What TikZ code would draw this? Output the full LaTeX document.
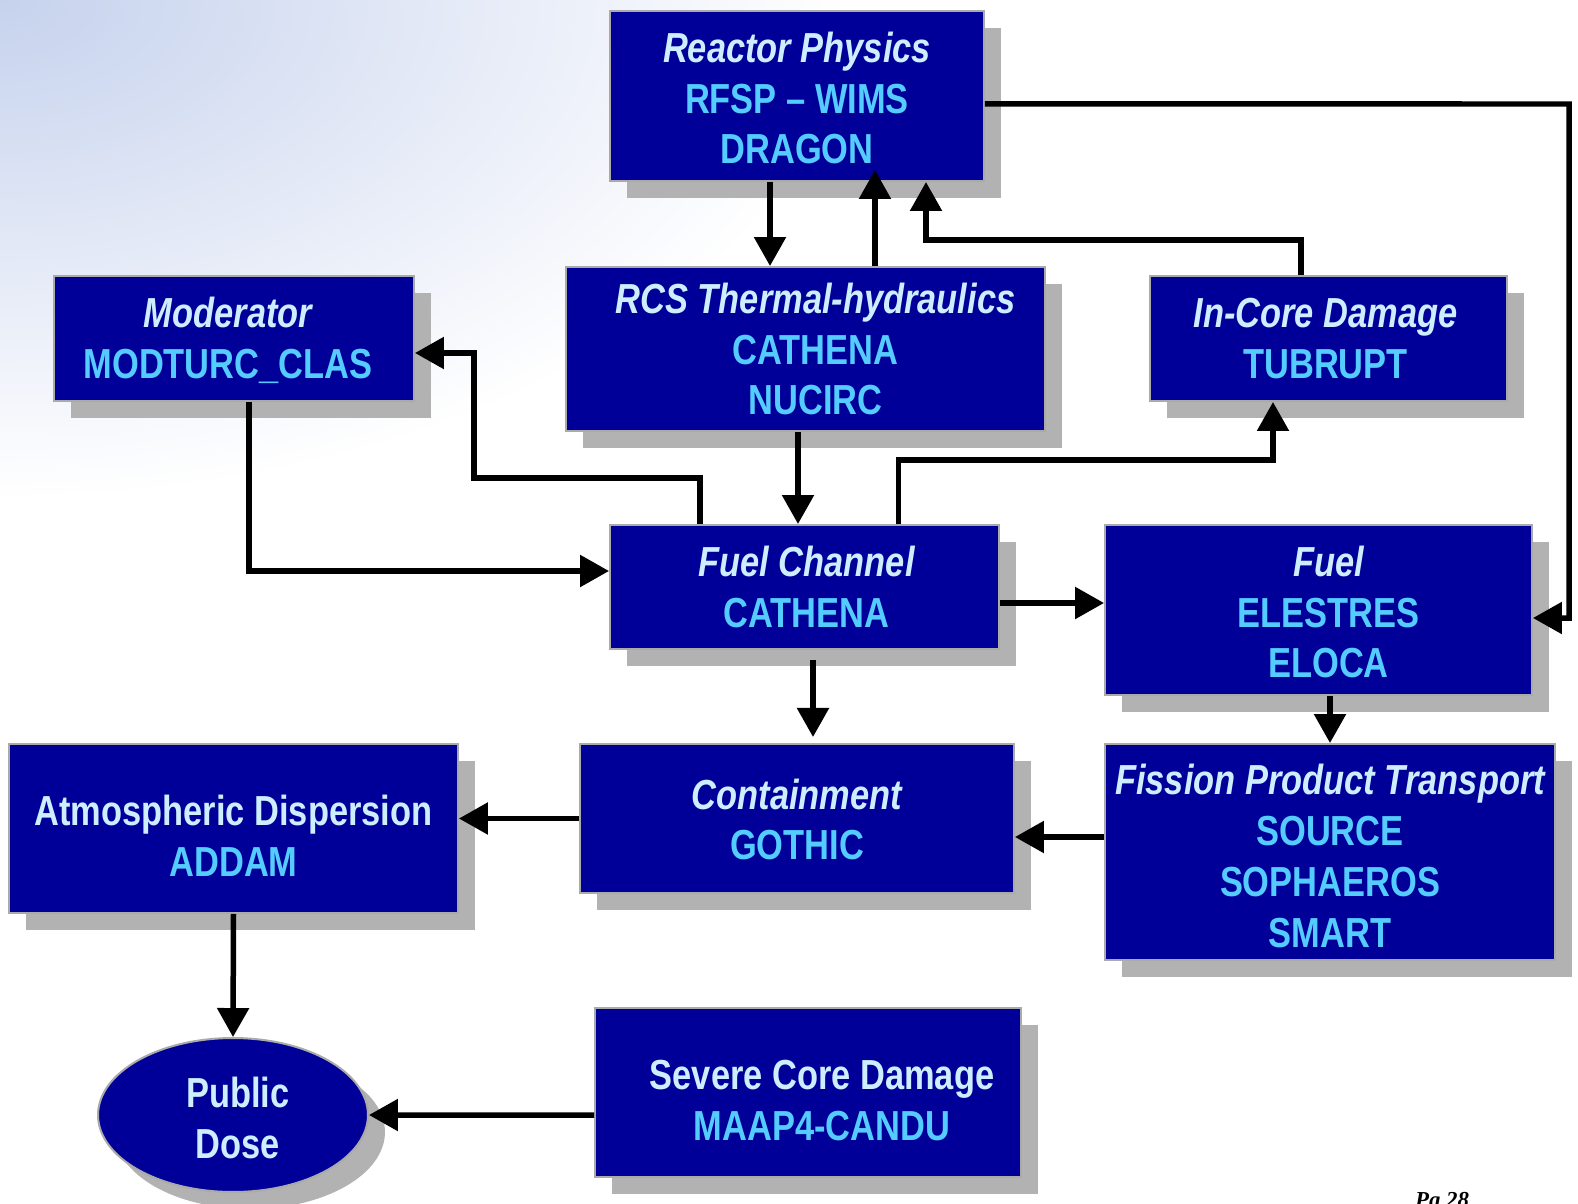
\documentclass[tikz,border=0pt]{standalone}
\usepackage{fontspec}
\setmainfont{Liberation Sans}[FakeStretch=0.82]
\newfontfamily\pagenofont{Liberation Serif}
\usepackage{xcolor}
\usetikzlibrary{positioning, arrows.meta, shapes.geometric, shadows}

\definecolor{boxblue}{RGB}{0,0,153}
\definecolor{titletext}{RGB}{204,238,255}
\definecolor{codetext}{RGB}{85,204,255}
\definecolor{shadowgray}{RGB}{178,178,178}
\definecolor{bordergray}{RGB}{170,170,170}
\definecolor{bgblue}{RGB}{198,210,237}

\newcommand{\ttl}[1]{{\color{titletext}\itshape #1}}
\newcommand{\ttlup}[1]{{\color{titletext}#1}}
\newcommand{\code}[1]{{\color{codetext}#1}}

\tikzset{
	box/.style={rectangle, draw=bordergray, line width=0.04cm, fill=boxblue, inner sep=0pt,
		drop shadow={shadow xshift=0.34cm, shadow yshift=-0.34cm, fill=shadowgray, opacity=1}},
	txt/.style={align=center, inner sep=0pt, font={\fontsize{23.9}{29}\selectfont\bfseries}},
	wire/.style={line width=0.11cm, -{Triangle[length=0.58cm, width=0.62cm]}},
}

\begin{document}
\begin{tikzpicture}[x=0.02cm, y=-0.02cm]
		\useasboundingbox (0,0) rectangle (1578,1203);
		\begin{scope}
			\clip (0,0) rectangle (1578,1203);
			\shade[inner color=bgblue, outer color=white] (0,0) ellipse [x radius=17cm, y radius=10cm];
		\end{scope}
		
		\node[box, minimum width=7.48cm, minimum height=3.4cm] (reactor) at (797,96) {};
		\node[txt] (reactor-txt) at ([yshift=-0.04cm]reactor) {\ttl{Reactor Physics}\\\code{RFSP -- WIMS}\\\code{DRAGON}};
		
		\node[box, minimum width=7.2cm, minimum height=2.5cm] (moder) at (234,338.5) {};
		\node[txt] (moder-txt) at ([xshift=-0.12cm, yshift=-0.04cm]moder) {\ttl{Moderator}\\\code{MODTURC\_CLAS}};
		
		\node[box, minimum width=9.58cm, minimum height=3.28cm] (rcs) at (805.5,349) {};
		\node[txt] (rcs-txt) at ([xshift=0.2cm]rcs) {\ttl{RCS Thermal-hydraulics}\\\code{CATHENA}\\\code{NUCIRC}};
		
		\node[box, minimum width=7.14cm, minimum height=2.5cm] (incore) at (1328.5,338.5) {};
		\node[txt] (incore-txt) at ([xshift=-0.06cm]incore) {\ttl{In-Core Damage}\\\code{TUBRUPT}};
		
		\node[box, minimum width=7.78cm, minimum height=2.48cm] (fuelch) at (804.5,587) {};
		\node[txt] (fuelch-txt) at ([xshift=0.04cm]fuelch) {\ttl{Fuel Channel}\\\code{CATHENA}};
		
		\node[box, minimum width=8.54cm, minimum height=3.4cm] (fuel) at (1318.5,610) {};
		\node[txt] (fuel-txt) at ([xshift=0.2cm, yshift=-0.04cm]fuel) {\ttl{Fuel}\\\code{ELESTRES}\\\code{ELOCA}};
		
		\node[box, minimum width=8.98cm, minimum height=3.38cm] (atmos) at (233.5,828.5) {};
		\node[txt] (atmos-txt) at ([yshift=-0.14cm]atmos) {\ttlup{Atmospheric Dispersion}\\\code{ADDAM}};
		
		\node[box, minimum width=8.68cm, minimum height=2.98cm] (contain) at (797,818.5) {};
		\node[txt] (contain-txt) at ([yshift=-0.02cm]contain) {\ttl{Containment}\\\code{GOTHIC}};
		
		\node[box, minimum width=9cm, minimum height=4.32cm] (fpt) at (1330,852) {};
		\node[txt] (fpt-txt) at ([yshift=-0.08cm]fpt) {\ttl{Fission Product Transport}\\\code{SOURCE}\\\code{SOPHAEROS}\\\code{SMART}};
		
		\node[box, ellipse, minimum width=5.4cm, minimum height=3.08cm] (public) at (233,1115) {};
		\node[txt] (public-txt) at ([xshift=0.1cm, yshift=-0.06cm]public) {\ttlup{Public}\\\ttlup{Dose}};
		
		\node[box, minimum width=8.52cm, minimum height=3.38cm] (severe) at (808,1092.5) {};
		\node[txt] (severe-txt) at ([xshift=0.28cm, yshift=-0.16cm]severe) {\ttlup{Severe Core Damage}\\\code{MAAP4-CANDU}};
		
		\node[anchor=base, font={\pagenofont\fontsize{13}{15}\selectfont\bfseries\itshape}] (pageno) at (1442,1207) {Pg 28};
		
		%bends of the long wires
		\coordinate (i1) at (474,478);
		\coordinate (i2) at (1273,460);
		\coordinate (i3) at (926,240);
		\coordinate (i4) at (1569,104);
		
		\draw[wire] ([xshift=-0.54cm]reactor.south) -- ([xshift=-0.54cm]reactor.south |- rcs.north);
		\draw[wire] ([xshift=1.56cm]reactor.south |- rcs.north) -- ([xshift=1.56cm, yshift=0.24cm]reactor.south);
		\draw[wire] ([xshift=-0.55cm]incore.north) |- (i3) -- (i3 |- reactor.south);
		\draw[wire] ([yshift=-0.16cm]reactor.east) -- (i4) |- ([yshift=-0.16cm]fuel.east);
		
		\draw[wire] ([xshift=-2.09cm]fuelch.north) |- (i1) |- ([yshift=-0.29cm]moder.east);
		\draw[wire] ([xshift=0.3cm]moder.south) |- ([yshift=0.32cm]fuelch.west);
		\draw[wire] ([xshift=-0.15cm]rcs.south) -- ([xshift=-0.15cm]rcs.south |- fuelch.north);
		\draw[wire] ([xshift=1.88cm]fuelch.north) |- (i2) -- (i2 |- incore.south);
		
		\draw[wire] ([yshift=-0.32cm]fuelch.east) -- ([yshift=-0.32cm]fuelch.east -| fuel.west);
		\draw[wire] ([xshift=0.17cm, yshift=-0.2cm]fuelch.south) -- ++(0,77);
		\draw[wire] ([xshift=0.23cm]fuel.south) -- ([xshift=0.23cm]fuel.south |- fpt.north);
		\draw[wire] ([yshift=0.3cm]fpt.west) -- ([yshift=0.3cm]fpt.west -| contain.east);
		\draw[wire] (contain.west) -- (contain.west -| atmos.east);
		\draw[wire] (atmos.south) -- (public.north);
		\draw[wire] ([yshift=-0.45cm]severe.west) -- (public.east);
	\end{tikzpicture}
\end{document}
